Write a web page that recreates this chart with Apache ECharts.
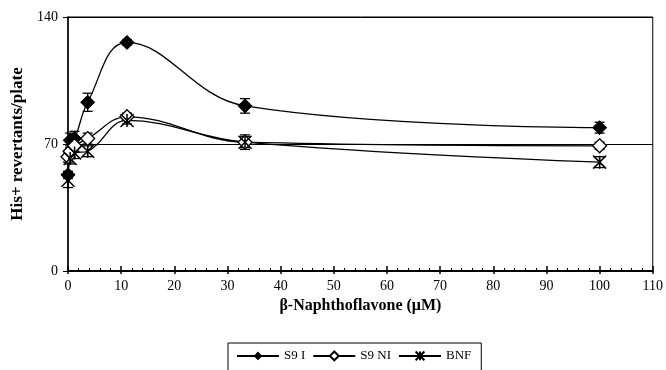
<!DOCTYPE html>
<html><head><meta charset="utf-8">
<script src="https://cdn.jsdelivr.net/npm/echarts@6/dist/echarts.min.js"></script>
<style>html,body{margin:0;padding:0;background:#fff}#c{width:666px;height:370px}</style>
</head><body><div id="c"></div>
<script>
const xValues = [0, 0.41, 1.23, 3.7, 11.1, 33.3, 100];
const s9i = [53, 72, 73, 93, 126, 91, 79];
const s9ni = [63, 66, 69, 73, 85, 71, 69];
const bnf = [50, 62, 65, 66, 83, 71, 60];
const s9iErr = [2, 4, 4, 5, 1.5, 4, 3];
const s9niErr = [3, 3, 3, 3, 2, 3, 2];
const bnfErr = [4, 3, 3, 3, 2, 4, 3];
const seriesNames = ['S9 I', 'S9 NI', 'BNF'];
const yTicks = [0, 70, 140];

const FONT = 'Liberation Serif';
const star = 'path://M0,0L10,10M10,0L0,10M5,0L5,10';
function pts(ys){ return xValues.map((x,i)=>[x, ys[i]]); }
function errData(ys, es){ return xValues.map((x,i)=>[x, ys[i]-es[i], ys[i]+es[i]]); }
function errSeries(ys, es){
  return {
    type:'custom', silent:true, z:3,
    data: errData(ys, es),
    renderItem(params, api){
      const x = api.value(0);
      const lo = api.coord([x, api.value(1)]);
      const hi = api.coord([x, api.value(2)]);
      const w = 5;
      const st = {stroke:'#000', lineWidth:1.3};
      return {type:'group', children:[
        {type:'line', shape:{x1:lo[0],y1:lo[1],x2:hi[0],y2:hi[1]}, style:st},
        {type:'line', shape:{x1:lo[0]-w,y1:lo[1],x2:lo[0]+w,y2:lo[1]}, style:st},
        {type:'line', shape:{x1:hi[0]-w,y1:hi[1],x2:hi[0]+w,y2:hi[1]}, style:st}
      ]};
    }
  };
}
const chart = echarts.init(document.getElementById('c'));
chart.setOption({
  animation:false,
  backgroundColor:'#fff',
  grid:{left:68, right:12, top:17, bottom:99, show:true, borderColor:'#000', borderWidth:1},
  legend:{
    left:228, top:343, padding:[6,10,12,8], borderColor:'#000', borderWidth:1,
    itemWidth:42, itemHeight:11, itemGap:7,
    textStyle:{fontFamily:FONT, fontSize:13, color:'#000'},
    data:seriesNames
  },
  xAxis:[{
    type:'value', min:0, max:110, interval:10,
    axisLine:{lineStyle:{color:'#000', width:2}},
    axisTick:{inside:true, length:5, lineStyle:{color:'#000', width:1.5}},
    minorTick:{show:true, splitNumber:5, length:3, lineStyle:{color:'#000'}},
    splitLine:{show:false},
    axisLabel:{fontFamily:FONT, fontSize:14, color:'#000', margin:8},
    name:'β-Naphthoflavone (μM)', nameLocation:'middle', nameGap:20,
    nameTextStyle:{fontFamily:FONT, fontSize:16, fontWeight:'bold', color:'#000'}
  },{
    type:'value', min:0, max:110, interval:10, position:'bottom',
    axisLine:{show:false}, axisLabel:{show:false}, splitLine:{show:false},
    axisTick:{length:3, lineStyle:{color:'#000', width:1.5}}
  }],
  yAxis:{
    type:'value', min:0, max:140, interval:70,
    axisLine:{lineStyle:{color:'#000', width:1.5}},
    axisTick:{length:5, lineStyle:{color:'#000'}},
    splitLine:{show:true, lineStyle:{color:'#000', width:1}},
    axisLabel:{fontFamily:FONT, fontSize:14, color:'#000', margin:10,
      formatter:(v)=> yTicks.includes(v) ? String(v) : ''},
    name:'His+ revertants/plate', nameLocation:'middle', nameGap:42,
    nameTextStyle:{fontFamily:FONT, fontSize:17, fontWeight:'bold', color:'#000'}
  },
  series:[
    errSeries(s9i, s9iErr), errSeries(s9ni, s9niErr), errSeries(bnf, bnfErr),
    {name:'S9 I', type:'line', smooth:0.4, data:pts(s9i), symbol:'diamond', symbolSize:14,
     lineStyle:{color:'#000', width:1.3}, itemStyle:{color:'#000', borderColor:'#000'}, z:5},
    {name:'S9 NI', type:'line', smooth:0.4, data:pts(s9ni), symbol:'diamond', symbolSize:14,
     lineStyle:{color:'#000', width:1.3}, itemStyle:{color:'#fff', borderColor:'#000', borderWidth:1.3}, z:5},
    {name:'BNF', type:'line', smooth:0.4, data:pts(bnf), symbol:star, symbolSize:13,
     lineStyle:{color:'#000', width:1.3}, itemStyle:{color:'none', borderColor:'#000', borderWidth:1.5}, z:5}
  ]
});
</script></body></html>
